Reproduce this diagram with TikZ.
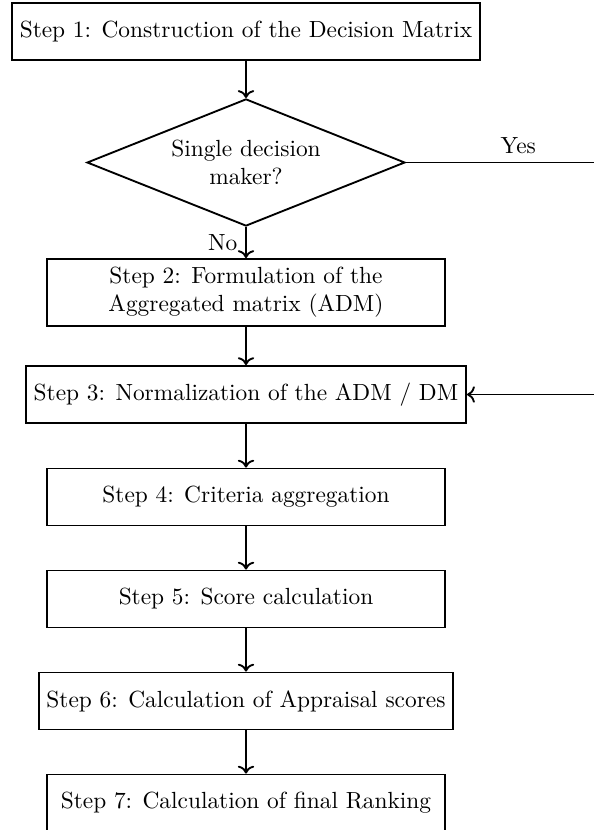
\documentclass[tikz,border=0pt]{standalone}
\usetikzlibrary{shapes.geometric,arrows.meta}
\begin{document}
\begin{tikzpicture}[x=0.428pt,y=-0.428pt,
  stepbox/.style={draw, thick, rectangle, minimum width=170.3pt, minimum height=24.4pt, align=center},
  decision/.style={draw, thick, diamond, aspect=2.5, minimum width=136.1pt, minimum height=54.4pt, align=center, inner sep=0pt},
  flow/.style={thick, -{To}}]
\useasboundingbox (0,0) rectangle (594,830);
\clip (0,0) rectangle (594,830);
\node[stepbox] (s1) at (246,31.5) {Step 1: Construction of the Decision Matrix};
\node[decision] (d) at (246,162.5) {Single decision\\maker?};
\node[stepbox, minimum height=28.7pt] (s2) at (246,292.5) {Step 2: Formulation of the\\Aggregated matrix (ADM)};
\node[stepbox] (s3) at (246,394.5) {Step 3: Normalization of the ADM / DM};
\node[stepbox] (s4) at (246,497) {Step 4: Criteria aggregation};
\node[stepbox] (s5) at (246,599) {Step 5: Score calculation};
\node[stepbox] (s6) at (246,701) {Step 6: Calculation of Appraisal scores};
\node[stepbox] (s7) at (246,803) {Step 7: Calculation of final Ranking};
\coordinate (yr) at (640,162.5);
\draw[flow] (s1) -- (d);
\draw[flow] (d) -- node[midway, left] (no) {No} (s2);
\draw[flow] (d.east) -- node[above, pos=0.48] (yes) {Yes} (yr) |- (s3.east);
\draw[flow] (s2) -- (s3);
\draw[flow] (s3) -- (s4);
\draw[flow] (s4) -- (s5);
\draw[flow] (s5) -- (s6);
\draw[flow] (s6) -- (s7);
\end{tikzpicture}
\end{document}
